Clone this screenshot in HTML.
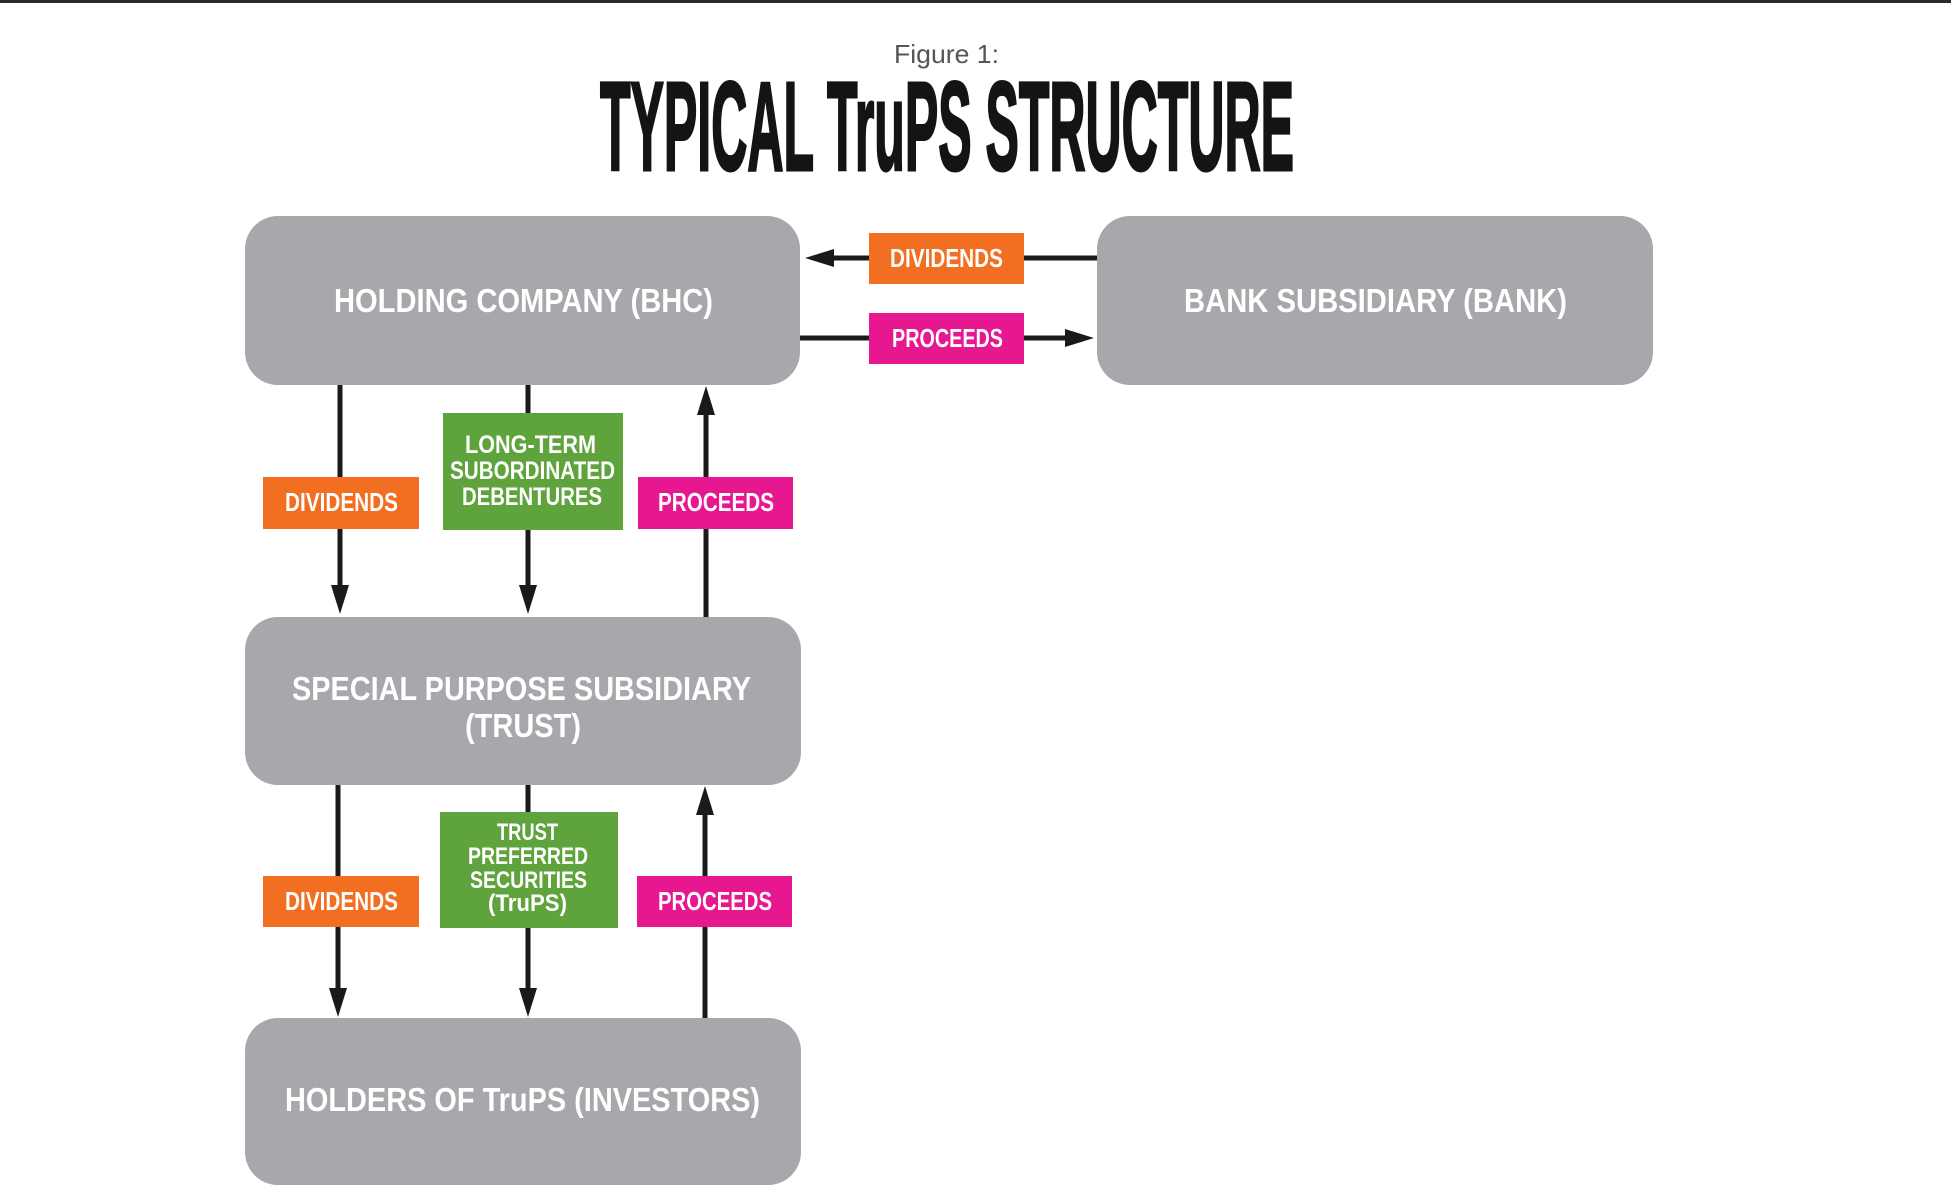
<!DOCTYPE html>
<html>
<head>
<meta charset="utf-8">
<style>
  html, body { margin:0; padding:0; background:#ffffff; }
  body { width:1951px; height:1200px; overflow:hidden; }
  svg { display:block; }
  .bx { font-family:"Liberation Sans", sans-serif; font-weight:bold; fill:#ffffff; }
</style>
</head>
<body>
<svg width="1951" height="1200" viewBox="0 0 1951 1200" xmlns="http://www.w3.org/2000/svg">
  <rect x="0" y="0" width="1951" height="1200" fill="#ffffff"/>
  <rect x="0" y="0" width="1951" height="3" fill="#2a2a2a"/>

  <!-- Title -->
  <text x="894" y="63" font-family="Liberation Sans, sans-serif" font-size="26" fill="#555" textLength="105" lengthAdjust="spacingAndGlyphs">Figure 1:</text>
  <text x="600" y="170" font-family="Liberation Sans, sans-serif" font-weight="bold" font-size="126" fill="#141414" stroke="#141414" stroke-width="3" textLength="694" lengthAdjust="spacingAndGlyphs">TYPICAL TruPS STRUCTURE</text>

  <!-- connectors (drawn beneath boxes) -->
  <g stroke="#1a1a1a" stroke-width="5" fill="none">
    <!-- horizontal -->
    <line x1="1097" y1="258" x2="828" y2="258"/>
    <line x1="800" y1="338" x2="1070" y2="338"/>
    <!-- BHC -> Trust -->
    <line x1="340" y1="385" x2="340" y2="590"/>
    <line x1="528" y1="385" x2="528" y2="590"/>
    <line x1="706" y1="617" x2="706" y2="410"/>
    <!-- Trust -> Investors -->
    <line x1="338" y1="785" x2="338" y2="992"/>
    <line x1="528" y1="785" x2="528" y2="992"/>
    <line x1="705" y1="1018" x2="705" y2="812"/>
  </g>
  <g fill="#1a1a1a">
    <polygon points="805,258 834,249 834,267"/>
    <polygon points="1094,338 1065,329 1065,347"/>
    <polygon points="340,614 331,585 349,585"/>
    <polygon points="528,614 519,585 537,585"/>
    <polygon points="706,386 697,415 715,415"/>
    <polygon points="338,1017 329,988 347,988"/>
    <polygon points="528,1017 519,988 537,988"/>
    <polygon points="705,786 696,815 714,815"/>
  </g>

  <!-- gray boxes -->
  <g fill="#a7a8ab">
    <rect x="245" y="216" width="555" height="169" rx="33" ry="33"/>
    <rect x="1097" y="216" width="556" height="169" rx="33" ry="33"/>
    <rect x="245" y="617" width="556" height="168" rx="33" ry="33"/>
    <rect x="245" y="1018" width="556" height="167" rx="33" ry="33"/>
  </g>
  <text class="bx" x="334" y="312" font-size="33" textLength="379" lengthAdjust="spacingAndGlyphs">HOLDING COMPANY (BHC)</text>
  <text class="bx" x="1184" y="312" font-size="33" textLength="383" lengthAdjust="spacingAndGlyphs">BANK SUBSIDIARY (BANK)</text>
  <text class="bx" x="292" y="700" font-size="33" textLength="459" lengthAdjust="spacingAndGlyphs">SPECIAL PURPOSE SUBSIDIARY</text>
  <text class="bx" x="465" y="737" font-size="33" textLength="116" lengthAdjust="spacingAndGlyphs">(TRUST)</text>
  <text class="bx" x="285" y="1111" font-size="33" textLength="475" lengthAdjust="spacingAndGlyphs">HOLDERS OF TruPS (INVESTORS)</text>

  <!-- label boxes -->
  <rect x="869" y="233" width="155" height="51" fill="#f26f21"/>
  <text class="bx" x="890" y="267" font-size="26" textLength="113" lengthAdjust="spacingAndGlyphs">DIVIDENDS</text>
  <rect x="869" y="313" width="155" height="51" fill="#e6178f"/>
  <text class="bx" x="892" y="347" font-size="26" textLength="111" lengthAdjust="spacingAndGlyphs">PROCEEDS</text>

  <rect x="263" y="477" width="156" height="52" fill="#f26f21"/>
  <text class="bx" x="285" y="511" font-size="26" textLength="113" lengthAdjust="spacingAndGlyphs">DIVIDENDS</text>
  <rect x="638" y="477" width="155" height="52" fill="#e6178f"/>
  <text class="bx" x="658" y="511" font-size="26" textLength="116" lengthAdjust="spacingAndGlyphs">PROCEEDS</text>
  <rect x="443" y="413" width="180" height="117" fill="#5ea33b"/>
  <text class="bx" x="465" y="453" font-size="25" textLength="131" lengthAdjust="spacingAndGlyphs">LONG-TERM</text>
  <text class="bx" x="450" y="479" font-size="25" textLength="165" lengthAdjust="spacingAndGlyphs">SUBORDINATED</text>
  <text class="bx" x="462" y="505" font-size="25" textLength="140" lengthAdjust="spacingAndGlyphs">DEBENTURES</text>

  <rect x="263" y="876" width="156" height="51" fill="#f26f21"/>
  <text class="bx" x="285" y="910" font-size="26" textLength="113" lengthAdjust="spacingAndGlyphs">DIVIDENDS</text>
  <rect x="637" y="876" width="155" height="51" fill="#e6178f"/>
  <text class="bx" x="658" y="910" font-size="26" textLength="114" lengthAdjust="spacingAndGlyphs">PROCEEDS</text>
  <rect x="440" y="812" width="178" height="116" fill="#5ea33b"/>
  <text class="bx" x="497" y="840" font-size="24" textLength="61" lengthAdjust="spacingAndGlyphs">TRUST</text>
  <text class="bx" x="468" y="864" font-size="24" textLength="120" lengthAdjust="spacingAndGlyphs">PREFERRED</text>
  <text class="bx" x="470" y="888" font-size="24" textLength="117" lengthAdjust="spacingAndGlyphs">SECURITIES</text>
  <text class="bx" x="488" y="911" font-size="24" textLength="79" lengthAdjust="spacingAndGlyphs">(TruPS)</text>
</svg>
</body>
</html>
